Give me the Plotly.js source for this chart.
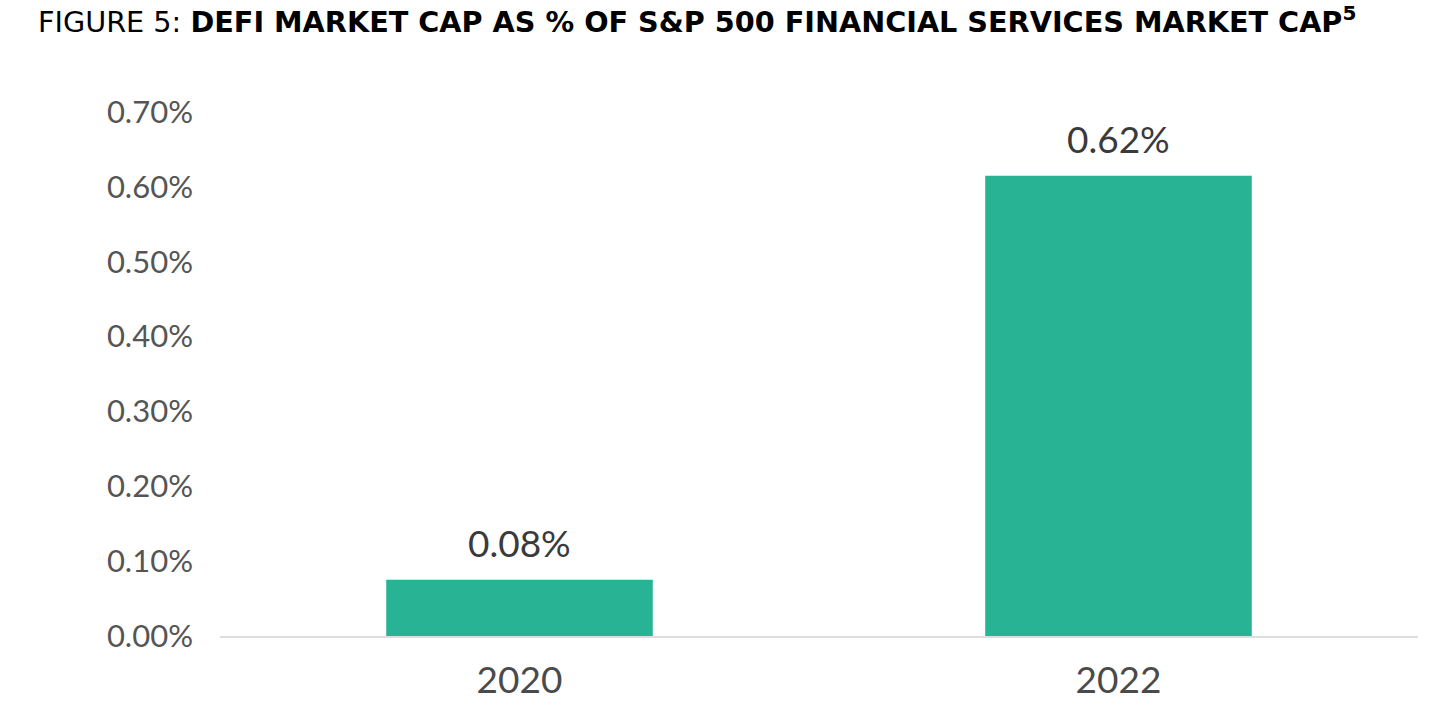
<!DOCTYPE html>
<html>
<head>
<meta charset="utf-8">
<script src="https://cdn.plot.ly/plotly-3.0.1.min.js"></script>
<style>html,body{margin:0;padding:0;background:#fff;}#chart{width:1452px;height:710px;}</style>
</head>
<body>
<div id="chart"></div>
<script>
const categories = ["2020", "2022"];
const values = [0.075, 0.615];
const valueLabels = ["0.08%", "0.62%"];
const tickValues = [0, 0.1, 0.2, 0.3, 0.4, 0.5, 0.6, 0.7];
const tickLabels = ["0.00%", "0.10%", "0.20%", "0.30%", "0.40%", "0.50%", "0.60%", "0.70%"];

const trace = {
  type: "bar",
  x: categories,
  y: values,
  marker: {color: "#27B394"},
  hoverinfo: "none"
};

// category axis: annotation positions given as category index
const labelAnnotations = categories.map((c, i) => ({
  x: i, y: values[i], xref: "x", yref: "y",
  text: valueLabels[i], showarrow: false,
  yanchor: "middle", yshift: 37,
  font: {family: "Lato", size: 37, color: "#3a3a3a"}
}));

const layout = {
  width: 1452,
  height: 710,
  paper_bgcolor: "#fff",
  plot_bgcolor: "#fff",
  margin: {l: 220, r: 34, t: 112, b: 74},
  bargap: 0.555,
  showlegend: false,
  title: {
    text: "FIGURE 5: <b>DEFI MARKET CAP AS % OF S&P 500 FINANCIAL SERVICES MARKET CAP<sup>5</sup></b>",
    font: {family: "DejaVu Sans", size: 28.7, color: "#000"},
    xref: "container", yref: "container",
    x: 38/1452, xanchor: "left",
    y: 1 - 22/710, yanchor: "middle"
  },
  annotations: labelAnnotations,
  xaxis: {
    type: "category",
    range: [-0.5, categories.length - 0.5],
    showline: true, linecolor: "#dddddd", linewidth: 2,
    ticks: "", showgrid: false, zeroline: false,
    tickfont: {family: "Lato", size: 37, color: "#4a4a4a"},
    ticklabelstandoff: 11
  },
  yaxis: {
    range: [0, 0.7],
    tickvals: tickValues,
    ticktext: tickLabels,
    showline: false, showgrid: false, zeroline: false,
    ticks: "",
    tickfont: {family: "Lato", size: 31, color: "#555555"},
    ticklabelstandoff: 26
  }
};

Plotly.newPlot("chart", [trace], layout, {displayModeBar: false, staticPlot: true});
</script>
</body>
</html>
